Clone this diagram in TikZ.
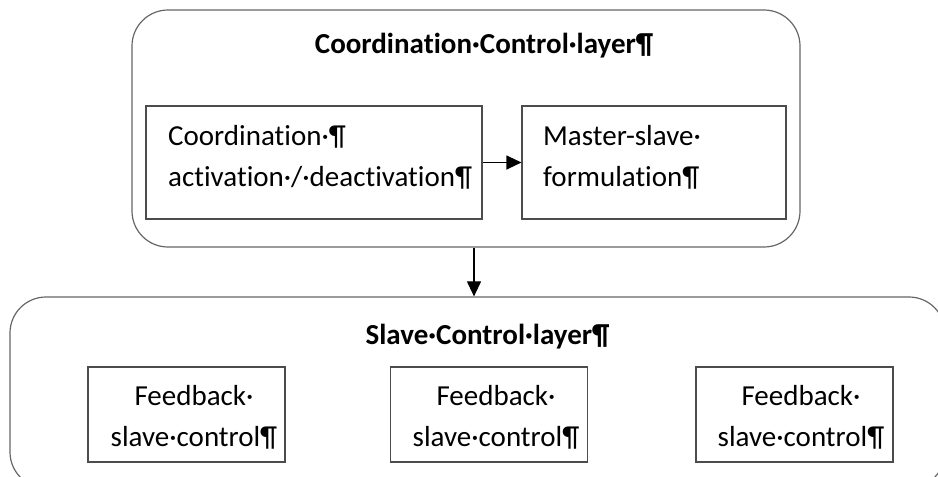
\documentclass[tikz,border=0pt]{standalone}
\usepackage{fontspec}
\setmainfont{Carlito}[Ligatures=NoCommon]
\usetikzlibrary{arrows.meta}
\begin{document}
\begin{tikzpicture}[x=1pt,y=-1pt,
  layerbox/.style={draw=black!60,line width=1.2pt,rounded corners=36pt,inner sep=0pt},
  innerbox/.style={draw=black!70,line width=1.1pt,inner sep=0pt,minimum height=113pt},
  fbbox/.style={draw=black!70,line width=1.1pt,inner sep=0pt,minimum height=95pt,minimum width=197pt},
  txt/.style={font=\fontsize{29}{41}\selectfont,inner sep=0pt},
  ttl/.style={font=\bfseries\fontsize{29}{34}\selectfont,inner sep=0pt},
  arr/.style={-{Triangle[length=15pt,width=14pt]},line width=1.1pt,black}]
\useasboundingbox (0,0) rectangle (938,477);
% layers
\node[layerbox,minimum width=668pt,minimum height=237pt] (top) at (466,128.5) {};
\node[layerbox,minimum width=935pt,minimum height=191pt] (bot) at (477.5,392.5) {};
% titles
\node[ttl] (ttop) at (484,46) {Coordination·Control·layer¶};
\node[ttl] (tbot) at (487.5,337) {Slave·Control·layer¶};
% inner boxes
\node[innerbox,minimum width=336pt] (ca) at (314,162.5) {};
\node[innerbox,minimum width=264pt] (ms) at (654,162.5) {};
\node[txt,align=left,anchor=west] (cat) at (168,157.5) {Coordination·¶\\activation·/·deactivation¶};
\node[txt,align=left,anchor=west] (mst) at (543,157.5) {Master-slave·\\formulation¶};
% feedback boxes
\node[fbbox] (f1) at (186.5,414.5) {};
\node[fbbox] (f2) at (489,414.5) {};
\node[fbbox] (f3) at (794.5,414.5) {};
\node[txt,align=center] (f1t) at (194,417.5) {Feedback·\\slave·control¶};
\node[txt,align=center] (f2t) at (496,417.5) {Feedback·\\slave·control¶};
\node[txt,align=center] (f3t) at (801,417.5) {Feedback·\\slave·control¶};
% arrows
\draw[arr] (ca.east) -- (ms.west);
\draw[arr] ([xshift=8pt]top.south) -- ([xshift=8pt]top.south |- bot.north);
\end{tikzpicture}
\end{document}
